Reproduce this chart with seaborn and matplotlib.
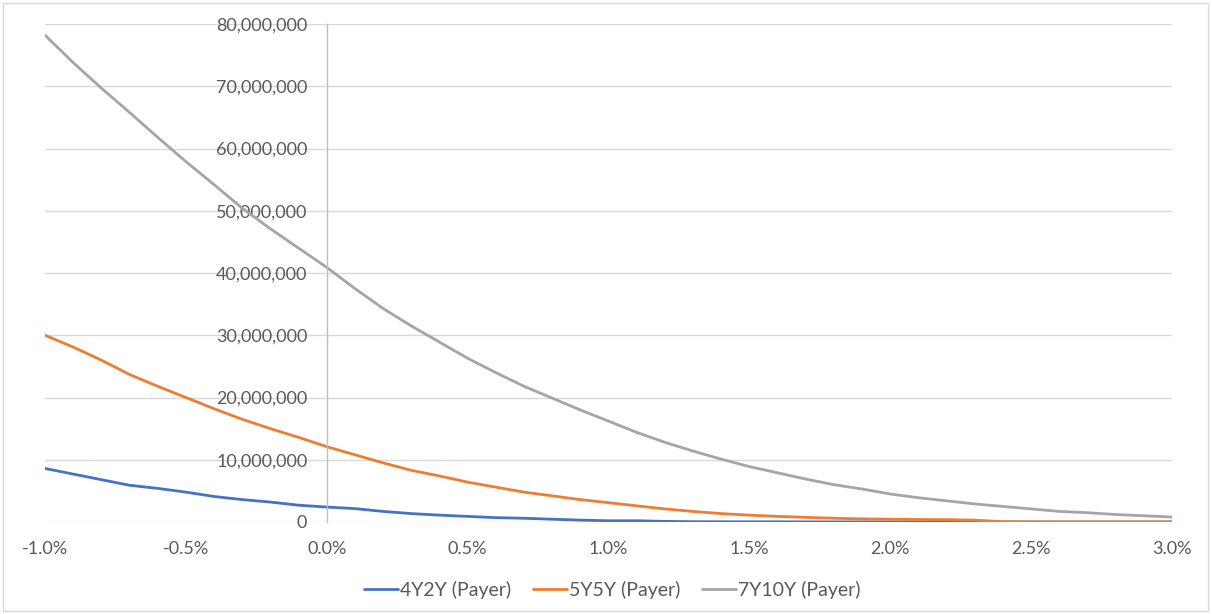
import numpy as np
import pandas as pd
import matplotlib
matplotlib.use("Agg")
import matplotlib.pyplot as plt
from matplotlib.ticker import FuncFormatter, MultipleLocator
from matplotlib.patches import Rectangle
import seaborn as sns

# Rate shift (%) at which each swaption value is evaluated
rates = [-1.0, -0.9, -0.8, -0.7, -0.6, -0.5, -0.4, -0.3, -0.2, -0.1,
         0.0, 0.1, 0.2, 0.3, 0.4, 0.5, 0.6, 0.7, 0.8, 0.9,
         1.0, 1.1, 1.2, 1.3, 1.4, 1.5, 1.6, 1.7, 1.8, 1.9,
         2.0, 2.1, 2.2, 2.3, 2.4, 2.5, 2.6, 2.7, 2.8, 2.9, 3.0]

# Payer swaption values (millions)
payer_4y2y = [8.6, 7.7, 6.8, 5.9, 5.4, 4.8, 4.1, 3.6, 3.2, 2.7,
              2.4, 2.15, 1.7, 1.35, 1.1, 0.9, 0.7, 0.6, 0.45, 0.3,
              0.2, 0.2, 0.1, 0.05, 0.04, 0.03, 0.03, 0.02, 0.02, 0.02,
              0.01, 0.01, 0.01, 0.01, 0.01, 0.0, 0.0, 0.0, 0.0, 0.0, 0.0]
payer_5y5y = [30.0, 28.1, 26.0, 23.7, 21.8, 20.0, 18.2, 16.5, 15.0, 13.6,
              12.1, 10.8, 9.5, 8.3, 7.4, 6.4, 5.6, 4.8, 4.2, 3.6,
              3.1, 2.6, 2.1, 1.7, 1.35, 1.1, 0.9, 0.75, 0.6, 0.5,
              0.45, 0.4, 0.38, 0.3, 0.05, 0.03, 0.02, 0.02, 0.02, 0.02, 0.02]
payer_7y10y = [78.2, 73.8, 69.7, 65.8, 61.8, 57.9, 54.2, 50.4, 47.1, 44.0,
               40.9, 37.5, 34.3, 31.5, 28.9, 26.3, 24.0, 21.8, 19.9, 18.0,
               16.2, 14.4, 12.8, 11.4, 10.1, 8.9, 7.9, 6.9, 6.0, 5.3,
               4.5, 3.9, 3.4, 2.9, 2.5, 2.1, 1.7, 1.5, 1.2, 1.0, 0.8]

series_names = ["4Y2Y (Payer)", "5Y5Y (Payer)", "7Y10Y (Payer)"]
series_colors = ["#4472C4", "#ED7D31", "#A5A5A5"]

frames = []
for name, vals in zip(series_names, [payer_4y2y, payer_5y5y, payer_7y10y]):
    frames.append(pd.DataFrame({"rate": rates,
                                "value": np.array(vals) * 1e6,
                                "series": name}))
df = pd.concat(frames, ignore_index=True)

sns.set_theme(style="white")
plt.rcParams["font.family"] = ["Lato", "DejaVu Sans"]
text_color = "#595959"

fig = plt.figure(figsize=(12.12, 6.14), dpi=100)
ax = fig.add_axes([45 / 1212, 1 - 522 / 614, (1172 - 45) / 1212, (522 - 24) / 614])

sns.lineplot(data=df, x="rate", y="value", hue="series",
             palette=series_colors, linewidth=2.0, ax=ax, legend=True)

ax.set_xlim(-1.0, 3.0)
ax.set_ylim(0, 80e6)
ax.xaxis.set_major_locator(MultipleLocator(0.5))
ax.yaxis.set_major_locator(MultipleLocator(10e6))
ax.xaxis.set_major_formatter(FuncFormatter(lambda v, p: f"{v:.1f}%"))
ax.yaxis.set_major_formatter(FuncFormatter(lambda v, p: f"{v:,.0f}"))

ax.grid(axis="y", color="#d9d9d9", linewidth=1.0)
ax.grid(axis="x", visible=False)
ax.set_axisbelow(True)

for side in ["top", "right", "bottom"]:
    ax.spines[side].set_visible(False)
ax.spines["left"].set_position(("data", 0))
ax.spines["left"].set_color("#bfbfbf")
ax.spines["left"].set_linewidth(1.0)

ax.tick_params(axis="both", length=0, labelsize=13, labelcolor=text_color)
ax.tick_params(axis="y", pad=14)
ax.tick_params(axis="x", pad=14)
ax.set_xlabel("")
ax.set_ylabel("")

handles, labels = ax.get_legend_handles_labels()
ax.legend_.remove()
fig.legend(handles, labels, loc="center", bbox_to_anchor=(0.505, 1 - 590 / 614),
           ncol=3, frameon=False, fontsize=14, labelcolor=text_color,
           handlelength=1.75, handletextpad=0.12, columnspacing=1.1)

fig.patches.append(Rectangle((3 / 1212, 3 / 614), 1205 / 1212, 608 / 614,
                             transform=fig.transFigure, fill=False,
                             edgecolor="#d9d9d9", linewidth=1.0))

fig.savefig("out.png", dpi=100, facecolor="white")
